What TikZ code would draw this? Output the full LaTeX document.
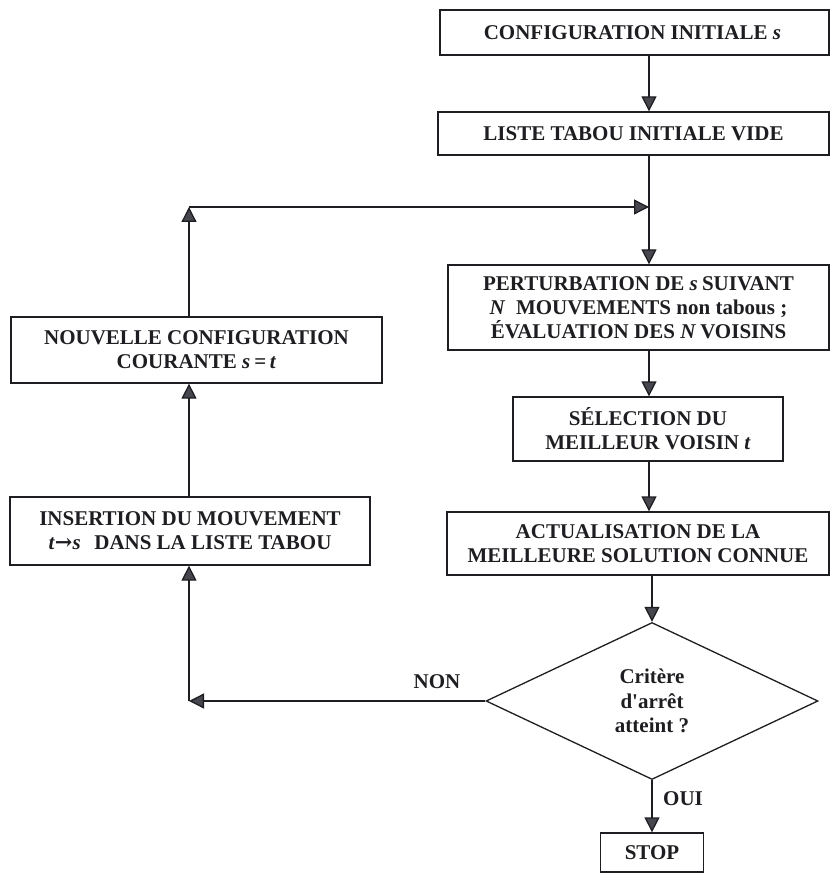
\documentclass[tikz,border=0pt]{standalone}
\usepackage{fontspec}
\setmainfont{Liberation Serif}
\newfontfamily\arrowfont{DejaVu Serif}
\usetikzlibrary{arrows.meta,shapes.geometric}
\definecolor{linecol}{HTML}{1E1E22}
\definecolor{tipcol}{HTML}{46464E}
% italic symbol with a little extra room around it
\newcommand{\sym}[1]{\hspace{0.25em}\textit{#1}\hspace{0.2em}}
\begin{document}
\begin{tikzpicture}[x=1pt,y=-1pt,
  every node/.style={font=\fontsize{21}{24}\selectfont\bfseries, text=linecol},
  box/.style={draw=linecol, line width=1.3pt, align=center, inner sep=0pt},
  decision/.style={draw=linecol, line width=1.3pt, diamond, align=center, inner sep=0pt,
    font=\fontsize{21}{24.5}\selectfont\bfseries},
  flow/.style={draw=linecol, line width=1.3pt,
    -{Triangle[length=15pt,width=15pt,fill=tipcol]}},
  plain/.style={draw=linecol, line width=1.3pt},
  lbl/.style={inner sep=0pt}]
\useasboundingbox (0,0) rectangle (830,874);

% main column
\node[box, minimum width=389pt, minimum height=45pt] (init) at (634.5,32.5)
  {CONFIGURATION INITIALE\sym{s}};
\node[box, minimum width=391pt, minimum height=43pt] (tabou) at (633.5,133.5)
  {LISTE TABOU INITIALE VIDE};
\node[box, minimum width=381pt, minimum height=85pt] (perturb) at (638.5,307.5)
  {PERTURBATION DE\sym{s}SUIVANT\\
   \textit{N}\hspace{0.25em} MOUVEMENTS non tabous ;\\
   ÉVALUATION DES\sym{N}VOISINS};
\node[box, minimum width=270pt, minimum height=64pt] (select) at (648,429)
  {SÉLECTION DU\\ MEILLEUR VOISIN\sym{t}};
\node[box, minimum width=382pt, minimum height=63pt] (update) at (638,543.5)
  {ACTUALISATION DE LA\\ MEILLEURE SOLUTION CONNUE};
\node[decision, minimum width=332pt, minimum height=157pt] (crit) at (652,701)
  {Critère\\ d\textquotesingle arrêt\\ atteint ?};
\node[box, minimum width=103pt, minimum height=39pt] (stop) at (652,852.5) {STOP};

% left column
\node[box, minimum width=371pt, minimum height=66pt] (newconf) at (196.5,350)
  {NOUVELLE CONFIGURATION\\ COURANTE\sym{s}=\,\textit{t}};
\node[box, minimum width=360pt, minimum height=68pt] (insert) at (190,531)
  {INSERTION DU MOUVEMENT\\ \textit{t}{\arrowfont\bfseries →}\textit{s}\hspace{0.4em} DANS LA LISTE TABOU};

% loop corners
\coordinate (join) at (649,207);
\coordinate (corner) at (189,207);
\coordinate (nonend) at (189,701);

% connectors
\draw[flow] (init.south -| join) -- (tabou.north -| join);
\draw[plain] (tabou.south -| join) -- (join);
\draw[flow] (join) -- (perturb.north -| join);
\draw[flow] (perturb.south -| join) -- (select.north -| join);
\draw[flow] (select.south -| join) -- (update.north -| join);
\draw[flow] (update.south -| crit) -- (crit.north);
\draw[flow] (crit.south) -- (stop.north);
\draw[flow] (crit.west) -- (nonend);
\draw[flow] (nonend) -- (insert.south -| nonend);
\draw[flow] (insert.north -| nonend) -- (newconf.south -| nonend);
\draw[flow] (newconf.north -| corner) -- (corner);
\draw[flow] (corner) -- (join);

% branch labels
\node[lbl] (non) at (437,682) {NON};
\node[lbl] (oui) at (683,799) {OUI};
\end{tikzpicture}
\end{document}
